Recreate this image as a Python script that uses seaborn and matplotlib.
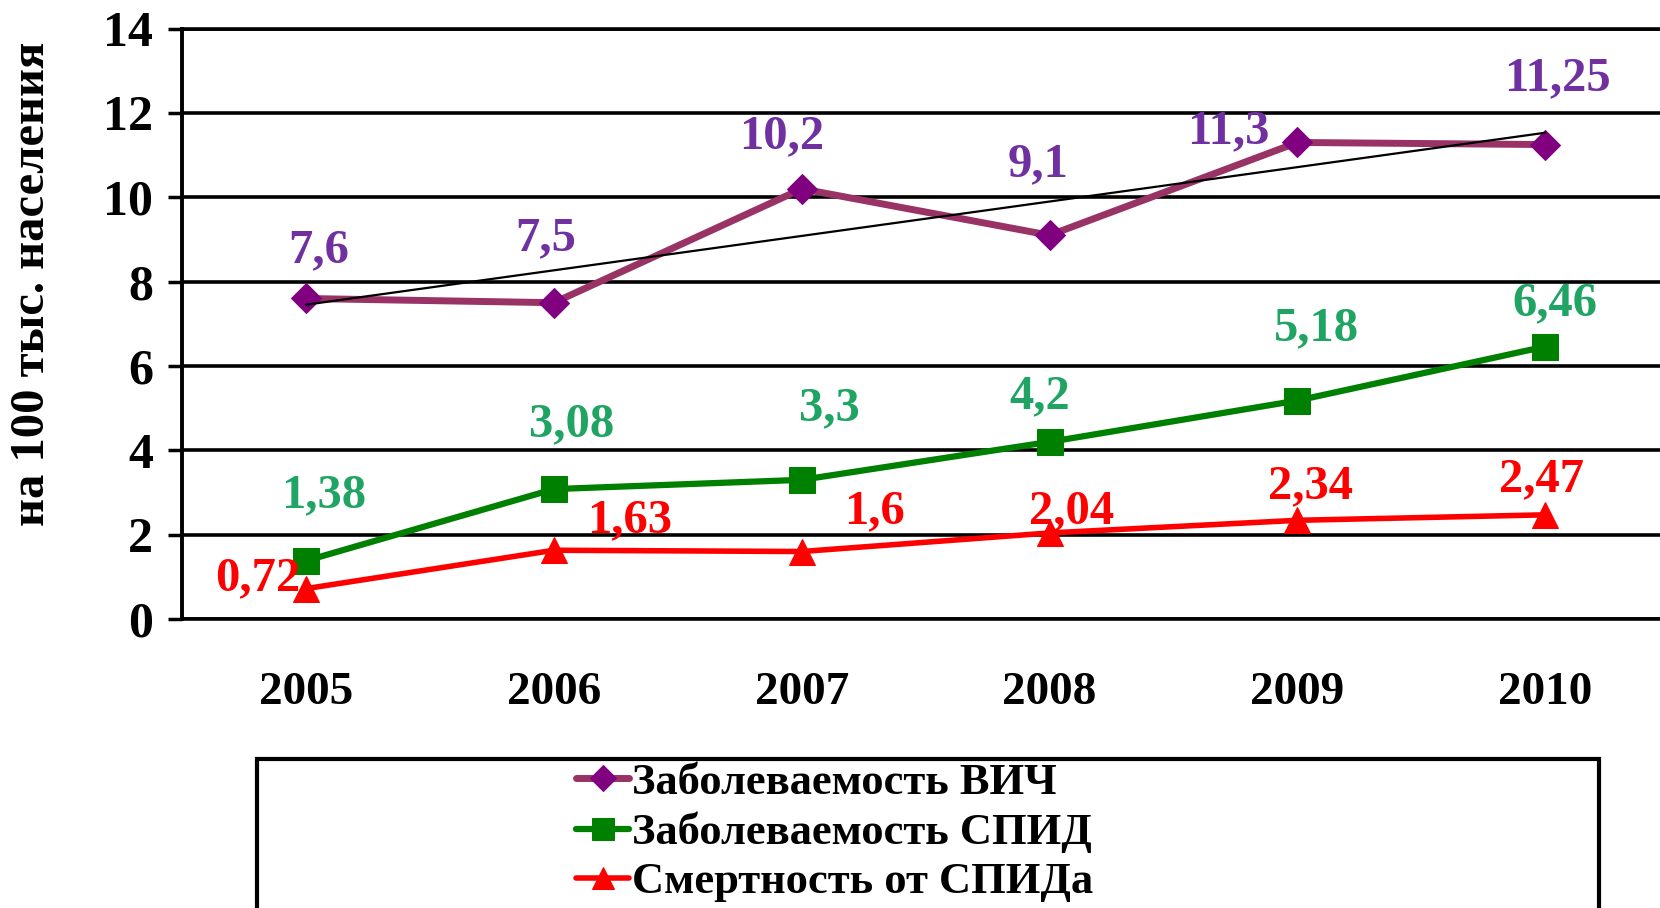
import numpy as np
import pandas as pd
import seaborn as sns
import matplotlib
matplotlib.use("Agg")
import matplotlib.pyplot as plt
from matplotlib.patches import Rectangle
from matplotlib.ticker import FixedLocator, NullFormatter

# ---- data ----
years = ["2005", "2006", "2007", "2008", "2009", "2010"]
hiv = [7.6, 7.5, 10.2, 9.1, 11.3, 11.25]
aids = [1.38, 3.08, 3.3, 4.2, 5.18, 6.46]
deaths = [0.72, 1.63, 1.6, 2.04, 2.34, 2.47]
hiv_labels = ["7,6", "7,5", "10,2", "9,1", "11,3", "11,25"]
aids_labels = ["1,38", "3,08", "3,3", "4,2", "5,18", "6,46"]
death_labels = ["0,72", "1,63", "1,6", "2,04", "2,34", "2,47"]
series_names = ["Заболеваемость ВИЧ", "Заболеваемость СПИД", "Смертность от СПИДа"]
y_title = "на 100 тыс. населения"

# ---- layout (label offsets in pixels) ----
hiv_off = [(13, 48), (-8, 64), (-20, 53), (-12, 71), (-69, 11), (12, 66)]
aids_off = [(18, 66), (18, 65), (28, 72), (-10, 46), (19, 72), (10, 43)]
death_off = [(-48, 10), (76, 30), (73, 40), (22, 22), (13, 34), (-4, 36)]

sns.set_theme(style="white")
plt.rcParams["font.family"] = ["Liberation Serif", "DejaVu Serif"]
plt.rcParams["font.weight"] = "bold"
plt.rcParams["text.color"] = "black"
plt.rcParams["axes.labelcolor"] = "black"
plt.rcParams["xtick.color"] = "black"
plt.rcParams["ytick.color"] = "black"

fig = plt.figure(figsize=(16.6, 9.08), dpi=100)
ax = fig.add_axes([0.1097, 0.3183, 0.8959, 0.6502])

idx = np.arange(len(years))
df = pd.DataFrame({"idx": idx, "hiv": hiv, "aids": aids, "deaths": deaths})

# trend line for HIV
coef = np.polyfit(idx, hiv, 1)
trend = np.polyval(coef, idx)
ax.plot([idx[0], idx[-1]], [trend[0], trend[-1]], color="black", lw=1.6, zorder=6)

sns.lineplot(data=df, x="idx", y="hiv", ax=ax, color="#993366", lw=5,
             marker="D", markersize=15, markerfacecolor="#800080",
             markeredgecolor="#800080", label=series_names[0], zorder=5)
sns.lineplot(data=df, x="idx", y="aids", ax=ax, color="#008000", lw=4.5,
             marker="s", markersize=19, markerfacecolor="#008000",
             markeredgecolor="#008000", label=series_names[1], zorder=5)
sns.lineplot(data=df, x="idx", y="deaths", ax=ax, color="#FF0000", lw=4,
             marker="^", markersize=19, markerfacecolor="#FF0000",
             markeredgecolor="#FF0000", label=series_names[2], zorder=5)

def annotate(vals, labels, offs, color):
    for i, (v, t, o) in enumerate(zip(vals, labels, offs)):
        ax.annotate(t, (idx[i], v), xytext=o, textcoords="offset pixels",
                    ha="center", va="center", fontsize=35, fontweight="bold",
                    color=color, zorder=8, annotation_clip=False)

annotate(hiv, hiv_labels, hiv_off, "#7030A0")
annotate(aids, aids_labels, aids_off, "#1FA463")
annotate(deaths, death_labels, death_off, "#FF0000")

ax.set_xlim(-0.5, 5.5)
ax.set_ylim(0, 14)
ax.set_yticks(np.arange(0, 15, 2))
ax.set_yticklabels([str(v) for v in range(0, 15, 2)], fontsize=36, fontweight="bold")
ax.yaxis.grid(True, color="black", lw=2.6)
ax.set_axisbelow(True)

ax.xaxis.set_major_locator(FixedLocator(np.arange(-0.5, 6, 1)))
ax.xaxis.set_major_formatter(NullFormatter())
ax.xaxis.set_minor_locator(FixedLocator(idx))
ax.set_xticklabels(years, minor=True, fontsize=34, fontweight="bold")
ax.tick_params(axis="x", which="major", direction="out", length=10, width=2.5, color="black")
ax.tick_params(axis="x", which="minor", length=0, pad=38)
ax.tick_params(axis="y", direction="out", length=10, width=2.5, color="black", pad=11, left=True)

ax.spines["right"].set_visible(False)
for s in ["top", "bottom"]:
    ax.spines[s].set_color("black")
    ax.spines[s].set_linewidth(2.6)
ax.spines["left"].set_color("black")
ax.spines["left"].set_linewidth(2.8)

ax.set_xlabel("")
ax.set_ylabel(y_title, fontsize=35, fontweight="bold")
ax.yaxis.set_label_coords(-0.086, 0.568)

handles, labels = ax.get_legend_handles_labels()
ax.get_legend().remove()
fig.legend(handles, labels, loc="center left", bbox_to_anchor=(0.347, 0.083),
           frameon=False, prop={"size": 32, "weight": "bold"},
           handlelength=1.2, handletextpad=0.05, labelspacing=0.2,
           borderpad=0, borderaxespad=0, markerscale=0.85)
fig.patches.append(Rectangle((0.155, -0.05), 0.808, 0.214, transform=fig.transFigure,
                             fill=False, ec="black", lw=3))

fig.savefig("out.png", dpi=100)
